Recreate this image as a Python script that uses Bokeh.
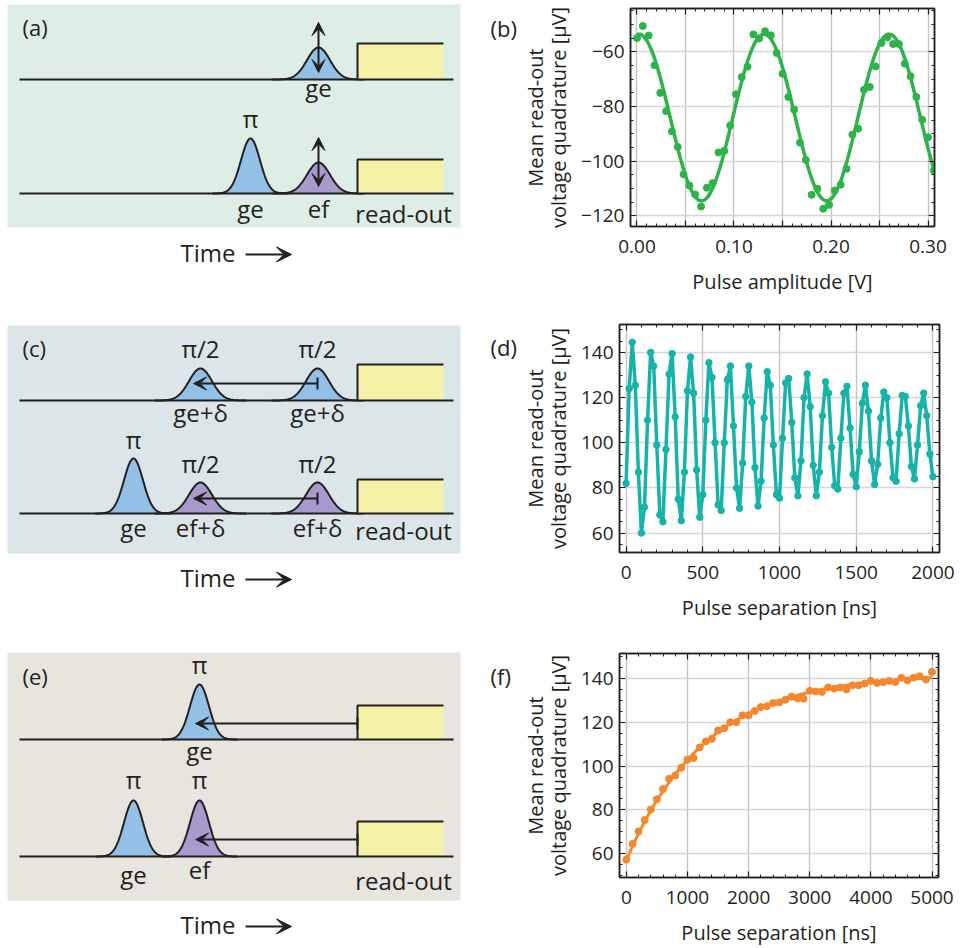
import numpy as np
from bokeh.plotting import figure
from bokeh.layouts import row, column
from bokeh.models import (Range1d, FixedTicker, LinearAxis, Arrow,
                          VeeHead, TeeHead)
from bokeh.embed import file_html
from bokeh.resources import INLINE
from bokeh.core.properties import value

FONT = "Open Sans"
INK = "#231f20"
BLUE = "#93c0e6"
PURPLE = "#a79bcd"
YELLOW = "#f4f2a6"

# ---------------------------------------------------------------- data
# (b) amplitude sweep of the ef pulse
amp_b = [0.000, 0.006, 0.012, 0.018, 0.024, 0.030, 0.036, 0.042, 0.048, 0.054,
         0.060, 0.066, 0.072, 0.078, 0.084, 0.090, 0.096, 0.102, 0.108, 0.114,
         0.120, 0.126, 0.132, 0.138, 0.144, 0.150, 0.156, 0.162, 0.168, 0.174,
         0.180, 0.186, 0.192, 0.198, 0.204, 0.210, 0.216, 0.222, 0.228, 0.234,
         0.240, 0.246, 0.252, 0.258, 0.264, 0.270, 0.276, 0.282, 0.288, 0.294,
         0.300, 0.306]
quad_b = [-54.9, -50.5, -54.0, -64.9, -75.0, -81.7, -89.1, -94.8, -104.8, -108.9,
          -112.2, -116.6, -109.7, -108.0, -96.8, -96.2, -86.9, -75.5, -69.2, -65.4,
          -53.6, -55.1, -52.4, -53.9, -60.4, -68.0, -76.5, -81.1, -93.2, -99.5,
          -112.3, -110.1, -117.4, -116.0, -110.7, -108.6, -102.8, -90.3, -88.1, -73.8,
          -72.8, -65.3, -56.7, -54.7, -57.1, -57.1, -64.3, -68.9, -76.5, -84.8,
          -91.2, -103.4]
# cosine fit: offset, amplitude, period [V], phase offset [V]
fit_b = dict(offset=-84.0, amp=30.5, period=0.129, x0=0.002)

# (d) Ramsey fringes, 20 ns steps
sep_d = [0, 20, 40, 60, 80, 100, 120, 140, 160, 180, 200, 220, 240, 260, 280,
         300, 320, 340, 360, 380, 400, 420, 440, 460, 480, 500, 520, 540, 560,
         580, 600, 620, 640, 660, 680, 700, 720, 740, 760, 780, 800, 820, 840,
         860, 880, 900, 920, 940, 960, 980, 1000, 1020, 1040, 1060, 1080, 1100,
         1120, 1140, 1160, 1180, 1200, 1220, 1240, 1260, 1280, 1300, 1320, 1340,
         1360, 1380, 1400, 1420, 1440, 1460, 1480, 1500, 1520, 1540, 1560, 1580,
         1600, 1620, 1640, 1660, 1680, 1700, 1720, 1740, 1760, 1780, 1800, 1820,
         1840, 1860, 1880, 1900, 1920, 1940, 1960, 1980, 2000]
quad_d = [82, 124, 144.5, 125.5, 87, 60, 71.5, 110, 140, 134,
          99, 68, 65, 97, 130.5, 139.5, 111.5, 75, 65.5, 87,
          123, 138, 122, 88, 67, 77, 110, 135.5, 129, 100,
          72.5, 70, 100, 128, 134, 107.5, 80, 71, 91, 120.5,
          134, 118, 89, 72, 83, 111, 131.5, 125.5, 99, 77,
          75.5, 102, 126.5, 128.5, 109, 84.5, 76.5, 92, 120, 130.5,
          116, 90, 76.5, 87, 112, 127, 122, 98, 81, 79.5,
          102, 122, 125, 106.5, 86, 80.5, 96, 117.5, 125.5, 114,
          92, 81.5, 90.5, 111, 122.5, 120, 100, 84.5, 83, 104,
          121, 120.5, 107.5, 89.5, 84, 99, 116.5, 122, 112, 95,
          85]

# (f) energy relaxation, 100 ns steps
sep_f = [0, 100, 200, 300, 400, 500, 600, 700, 800, 900, 1000, 1100, 1200,
         1300, 1400, 1500, 1600, 1700, 1800, 1900, 2000, 2100, 2200, 2300,
         2400, 2500, 2600, 2700, 2800, 2900, 3000, 3100, 3200, 3300, 3400,
         3500, 3600, 3700, 3800, 3900, 4000, 4100, 4200, 4300, 4400, 4500,
         4600, 4700, 4800, 4900, 5000]
quad_f = [57.4, 64.5, 70.2, 75.4, 80.2, 84.9, 89.5, 94.2, 95.7, 99.2, 102.9,
          103.7, 108.5, 111.2, 112.4, 116.2, 117.2, 120.0, 120.0, 123.1, 123.1,
          125.1, 126.9, 127.3, 128.7, 129.0, 130.2, 131.6, 130.8, 130.7, 134.3,
          134.0, 133.8, 135.8, 135.3, 135.8, 134.9, 136.8, 136.8, 137.6, 138.8,
          137.9, 138.2, 138.8, 138.3, 140.2, 139.1, 140.3, 140.9, 139.4, 142.9]
# exponential fit: saturation level, depth, decay time [ns]
fit_f = dict(sat=142.0, depth=85.0, tau=1290.0)

# ---------------------------------------------------------------- diagrams
# each panel: background box, baselines, pulses (centre, baseline, height,
# width, colour), read-out boxes (baseline, top), labels, arrows.
# Label y values are the vertical centres of the texts.
LEFT_W = 518
ROW_TOP = [0, 316, 636]
ROW_H = [316, 320, 312]

panels = [
    dict(letter="(a)", letter_y=26, bg="#deeee6", box=(7, 460, 4, 227),
         side_letter="(b)", side_letter_y=27,
         baselines=[79, 193],
         pulse_x=[318, 250, 318], pulse_base=[79, 193, 193],
         pulse_h=[32, 55, 31], pulse_s=[11.5, 9.5, 11.5],
         pulse_c=[BLUE, BLUE, PURPLE],
         readout_top=[43, 159],
         lab_x=[318, 250, 250, 318, 403],
         lab_y=[87, 118, 208, 208, 213],
         lab_t=["ge", "π", "ge", "ef", "read-out"],
         double_arrows=[(318, 72, 318, 22), (318, 186, 318, 137)],
         back_arrows=[],
         time_y=252, arrow_y=254),
    dict(letter="(c)", letter_y=347, bg="#dce6e9", box=(7, 460, 325, 553),
         side_letter="(d)", side_letter_y=346,
         baselines=[400, 513],
         pulse_x=[200, 317, 133, 200, 317], pulse_base=[400, 400, 513, 513, 513],
         pulse_h=[32, 32, 55, 31, 31], pulse_s=[11.5, 11.5, 9.5, 11.5, 11.5],
         pulse_c=[BLUE, BLUE, BLUE, PURPLE, PURPLE],
         readout_top=[364, 479],
         lab_x=[200, 317, 200, 317, 133, 200, 317, 133, 200, 317, 403],
         lab_y=[348, 348, 412, 412, 439, 463, 463, 527, 527, 527, 530],
         lab_t=["π/2", "π/2", "ge+δ", "ge+δ", "π", "π/2", "π/2", "ge",
                "ef+δ", "ef+δ", "read-out"],
         double_arrows=[],
         back_arrows=[(317, 383, 193, 383), (317, 498, 193, 498)],
         time_y=577, arrow_y=579),
    dict(letter="(e)", letter_y=675, bg="#e8e4de", box=(7, 460, 652, 900),
         side_letter="(f)", side_letter_y=675,
         baselines=[739, 856],
         pulse_x=[199, 133, 199], pulse_base=[739, 856, 856],
         pulse_h=[55, 56, 56], pulse_s=[9.5, 9.5, 9.5],
         pulse_c=[BLUE, BLUE, PURPLE],
         readout_top=[705, 821],
         lab_x=[199, 199, 133, 199, 133, 199, 403],
         lab_y=[664, 750, 779, 779, 874, 869, 880],
         lab_t=["π", "ge", "π", "π", "ge", "ef", "read-out"],
         double_arrows=[],
         back_arrows=[(357, 723, 195, 723), (357, 839, 195, 839)],
         time_y=924, arrow_y=926),
]


def head(size=13):
    return VeeHead(size=size, fill_color=INK, line_color=INK)


def diagram(spec, top, h):
    p = figure(width=LEFT_W, height=h, x_range=Range1d(0, LEFT_W),
               y_range=Range1d(top + h, top), output_backend="svg",
               toolbar_location=None, min_border=0, outline_line_color=None,
               x_axis_type=None, y_axis_type=None, frame_align=False)
    p.xgrid.visible = False
    p.ygrid.visible = False
    l, r, t, b = spec["box"]
    p.quad(left=[l], right=[r], top=[t], bottom=[b], fill_color=spec["bg"],
           line_color=None)
    for c, base, ph, s, col in zip(spec["pulse_x"], spec["pulse_base"],
                                   spec["pulse_h"], spec["pulse_s"],
                                   spec["pulse_c"]):
        xs = np.linspace(c - 4 * s, c + 4 * s, 160)
        ys = base - ph * np.exp(-0.5 * ((xs - c) / s) ** 2)
        p.patch(xs, ys, fill_color=col, line_color=None)
        p.line(xs, ys, line_color=INK, line_width=2)
    for base, rt in zip(spec["baselines"], spec["readout_top"]):
        p.quad(left=[357], right=[443], top=[rt], bottom=[base],
               fill_color=YELLOW, line_color=None)
        p.line([357, 357, 443], [base, rt, rt], line_color=INK, line_width=2)
        p.line([19, 453], [base, base], line_color=INK, line_width=2)
    for xs_, ys_, xe, ye in spec["double_arrows"]:
        p.add_layout(Arrow(start=head(), end=head(),
                           x_start=xs_, y_start=ys_, x_end=xe, y_end=ye,
                           line_color=INK, line_width=2))
    for xs_, ys_, xe, ye in spec["back_arrows"]:
        p.add_layout(Arrow(start=TeeHead(size=12, line_color=INK, line_width=2),
                           end=head(),
                           x_start=xs_, y_start=ys_, x_end=xe, y_end=ye,
                           line_color=INK, line_width=2))
    p.text(x=spec["lab_x"], y=spec["lab_y"], text=spec["lab_t"],
           text_font=value(FONT), text_font_size="24px", text_align="center",
           text_baseline="middle", text_color=INK)
    # panel letters: diagram on the left, plot letter just left of its axis
    p.text(x=[22, 490], y=[spec["letter_y"], spec["side_letter_y"]],
           text=[spec["letter"], spec["side_letter"]],
           text_font=value(FONT), text_font_size="22px", text_align="left",
           text_baseline="middle", text_color=INK)
    p.text(x=[180], y=[spec["time_y"]], text=["Time"], text_font=value(FONT),
           text_font_size="24px", text_align="left",
           text_baseline="middle", text_color=INK)
    ay = spec["arrow_y"]
    p.add_layout(Arrow(end=head(15), x_start=245, y_start=ay, x_end=291,
                       y_end=ay, line_color=INK, line_width=2))
    return p


# ---------------------------------------------------------------- plots
def style_axis(ax, ticker):
    ax.ticker = ticker
    ax.axis_line_color = INK
    ax.axis_line_width = 1.5
    ax.major_tick_in = 6
    ax.major_tick_out = 0
    ax.minor_tick_in = 3
    ax.minor_tick_out = 0
    ax.major_tick_line_color = INK
    ax.minor_tick_line_color = INK
    ax.major_tick_line_width = 1.2
    ax.minor_tick_line_width = 1.0


def make_plot(h, borders, xr, yr, xticks, xminor, xlabels, yticks, yminor,
              xlabel):
    left, right, top, bottom = borders
    p = figure(width=964 - LEFT_W, height=h, x_range=Range1d(*xr),
               y_range=Range1d(*yr), output_backend="svg",
               toolbar_location=None, frame_align=False,
               min_border_left=left, min_border_right=right,
               min_border_top=top, min_border_bottom=bottom,
               outline_line_color=INK, outline_line_width=1.5)
    xt = FixedTicker(ticks=xticks, minor_ticks=xminor)
    yt = FixedTicker(ticks=yticks, minor_ticks=yminor)
    style_axis(p.xaxis[0], xt)
    style_axis(p.yaxis[0], yt)
    p.xaxis.major_label_overrides = xlabels
    for ax in (p.xaxis[0], p.yaxis[0]):
        ax.major_label_text_font = FONT
        ax.major_label_text_font_size = "19px"
        ax.major_label_text_color = INK
        ax.axis_label_text_font = FONT
        ax.axis_label_text_font_size = "20px"
        ax.axis_label_text_font_style = "normal"
        ax.axis_label_text_color = INK
    p.xaxis.major_label_standoff = 13
    p.yaxis.major_label_standoff = 6
    p.xaxis.axis_label = xlabel
    p.xaxis.axis_label_standoff = 12
    p.yaxis.axis_label = "Mean read-out\nvoltage quadrature [μV]"
    p.yaxis.axis_label_standoff = 6
    p.yaxis.axis_label_text_line_height = 0.86
    for side in ("above", "right"):
        ticks = xticks if side == "above" else yticks
        minor = xminor if side == "above" else yminor
        ax = LinearAxis(major_label_text_font_size="0px", major_label_standoff=0,
                        axis_label=None)
        style_axis(ax, FixedTicker(ticks=ticks, minor_ticks=minor))
        ax.major_label_overrides = {t: "" for t in ticks}
        p.add_layout(ax, side)
    p.xgrid.ticker = xt
    p.ygrid.ticker = yt
    p.xgrid.grid_line_color = "#c4c4c4"
    p.ygrid.grid_line_color = "#d6d6d6"
    p.xgrid.grid_line_width = 1.4
    p.ygrid.grid_line_width = 1.4
    return p


GREEN = "#2cb34a"
TEAL = "#16b3aa"
ORANGE = "#f5872c"

pb = make_plot(316, (620 - LEFT_W, 30, 8, 90), (-0.0067, 0.3067), (-123.9, -44.1),
               [0.0, 0.05, 0.1, 0.15, 0.2, 0.25, 0.3],
               list(np.round(np.arange(0, 0.31, 0.01), 2)),
               {0.0: "0.00", 0.05: "", 0.1: "0.10", 0.15: "", 0.2: "0.20",
                0.25: "", 0.3: "0.30"},
               [-120, -100, -80, -60], list(range(-120, -44, 5)),
               "Pulse amplitude [V]")
xb = np.linspace(0.0, 0.3067, 400)
yb = fit_b["offset"] + fit_b["amp"] * np.cos(2 * np.pi * (xb - fit_b["x0"]) / fit_b["period"])
pb.scatter(amp_b, quad_b, size=7, color=GREEN)
pb.line(xb, yb, line_color=GREEN, line_width=3.5)

pd_ = make_plot(320, (614 - LEFT_W, 25, 8, 84), (-43, 2043), (51.4, 152.4),
                [0, 500, 1000, 1500, 2000], list(range(0, 2001, 100)),
                {0: "0", 500: "500", 1000: "1000", 1500: "1500", 2000: "2000"},
                [60, 80, 100, 120, 140], list(range(55, 151, 5)),
                "Pulse separation [ns]")
pd_.line(sep_d, quad_d, line_color=TEAL, line_width=3.5)
pd_.scatter(sep_d, quad_d, size=6.5, color=TEAL)

pf = make_plot(312, (613 - LEFT_W, 26, 17, 69), (-112, 5106), (49.2, 151.3),
               [0, 1000, 2000, 3000, 4000, 5000], list(range(0, 5001, 200)),
               {0: "0", 1000: "1000", 2000: "2000", 3000: "3000", 4000: "4000",
                5000: "5000"},
               [60, 80, 100, 120, 140], list(range(50, 151, 5)),
               "Pulse separation [ns]")
xf = np.linspace(0, 5000, 300)
yf = fit_f["sat"] - fit_f["depth"] * np.exp(-xf / fit_f["tau"])
pf.scatter(sep_f, quad_f, size=7, color=ORANGE)
pf.line(xf, yf, line_color=ORANGE, line_width=3)

da = diagram(panels[0], ROW_TOP[0], ROW_H[0])
dc = diagram(panels[1], ROW_TOP[1], ROW_H[1])
de = diagram(panels[2], ROW_TOP[2], ROW_H[2])

layout = column(row(da, pb), row(dc, pd_), row(de, pf))
open("out.html", "w").write(file_html(layout, INLINE))
